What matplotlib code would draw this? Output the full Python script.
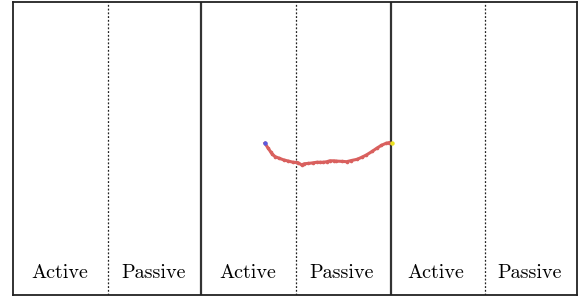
import matplotlib
matplotlib.use("Agg")
import matplotlib.pyplot as plt

# section labels along the bottom
labels = ["Active", "Passive", "Active", "Passive", "Active", "Passive"]

# trajectory (x in section units, y in axis fraction)
traj_x = [2.68, 2.71, 2.74, 2.76, 2.79, 2.83, 2.88, 2.93, 2.98, 3.03, 3.07,
          3.10, 3.14, 3.19, 3.23, 3.27, 3.30, 3.34, 3.37, 3.41, 3.44, 3.50,
          3.55, 3.60, 3.66, 3.71, 3.76, 3.82, 3.87, 3.92, 3.97, 4.00]
traj_y = [0.518, 0.503, 0.489, 0.480, 0.472, 0.467, 0.461, 0.457, 0.453, 0.452, 0.444,
          0.448, 0.449, 0.451, 0.453, 0.453, 0.453, 0.455, 0.458, 0.458, 0.457, 0.456,
          0.455, 0.459, 0.463, 0.470, 0.478, 0.490, 0.501, 0.511, 0.518, 0.520]
start_pt = (2.68, 0.518)
end_pt = (4.03, 0.520)

fig = plt.figure(figsize=(5.79, 3.0), dpi=100)
ax = fig.add_axes([0.0225, 0.017, 0.974, 0.976])
ax.set_xlim(0, 6)
ax.set_ylim(0, 1)
ax.set_xticks([])
ax.set_yticks([])
for s in ax.spines.values():
    s.set_linewidth(1.3)
    s.set_color("#222222")

# dividers between sections
for x in [2, 4.02]:
    ax.axvline(x, color="#333333", lw=1.6)
for x in [1.01, 3.01, 5.02]:
    ax.axvline(x, color="#222222", lw=0.9, ls=(0, (1.5, 1.5)))

for i, lab in enumerate(labels):
    ax.text(i + 0.5, 0.075, lab, ha="center", va="center",
            fontfamily="cmr10", fontsize=14.5)

ax.plot(traj_x, traj_y, color="#d9605e", lw=2.2, marker="o", ms=2.6,
        markeredgewidth=0)
ax.plot(*start_pt, "o", color="#5a5adf", ms=3.2, markeredgewidth=0)
ax.plot(*end_pt, "o", color="#e8e020", ms=3.2, markeredgewidth=0)

fig.savefig("out.png", dpi=100)
